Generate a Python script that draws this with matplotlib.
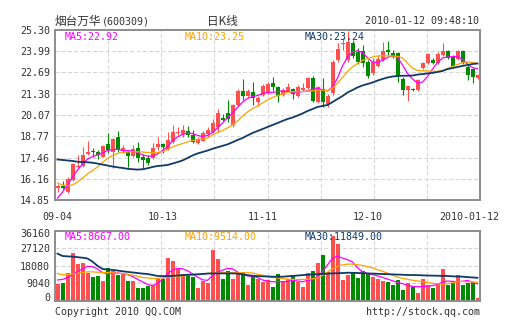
import numpy as np
import matplotlib
matplotlib.use("Agg")
import matplotlib.pyplot as plt
import matplotlib.transforms as mtransforms

# 烟台万华 (600309) daily K-line, 2009-09-04 .. 2010-01-12
opens = [15.59, 15.68, 15.37, 16.08, 16.88, 16.91, 17.65, 17.89, 17.80, 17.52,
         18.32, 17.83, 18.72, 17.86, 17.82, 17.55, 18.03, 17.51, 17.41, 17.41,
         18.13, 18.29, 17.97, 18.43, 18.95, 18.91, 19.09, 18.85, 18.37, 18.50,
         18.91, 19.05, 19.36, 19.91, 20.22, 19.46, 20.69, 21.55, 21.26, 21.47,
         20.89, 21.30, 21.43, 22.07, 21.78, 21.30, 21.51, 21.65, 21.26, 21.61,
         21.72, 22.33, 20.89, 21.67, 20.75, 21.41, 23.46, 24.44, 23.46, 24.50,
         23.95, 24.01, 23.33, 22.66, 23.11, 23.46, 24.07, 23.90, 23.87, 22.29,
         21.61, 21.65, 21.61, 22.95, 23.25, 23.46, 23.25, 23.76, 24.03, 23.66,
         23.50, 24.03, 23.04, 22.88, 22.33]
closes = [15.74, 15.56, 16.14, 17.06, 16.97, 17.62, 17.82, 17.77, 17.62, 18.17,
          17.92, 18.60, 17.92, 18.05, 17.55, 17.97, 17.41, 17.31, 17.14, 18.03,
          18.29, 18.13, 18.54, 19.05, 19.05, 19.15, 18.85, 18.43, 18.60, 18.95,
          19.15, 19.56, 20.22, 19.77, 19.81, 20.69, 21.55, 21.26, 21.55, 21.10,
          21.12, 21.86, 21.98, 21.80, 21.26, 21.61, 21.78, 21.35, 21.81, 21.75,
          22.33, 20.94, 21.78, 20.89, 21.26, 23.35, 24.13, 24.53, 24.56, 23.70,
          23.33, 23.27, 22.49, 23.33, 23.52, 24.03, 23.97, 23.66, 22.49, 21.61,
          21.86, 21.61, 22.23, 23.25, 23.82, 23.25, 23.82, 24.03, 23.56, 23.11,
          24.03, 23.25, 22.53, 22.39, 22.53]
highs = [15.83, 16.02, 16.29, 17.12, 17.59, 18.11, 18.48, 18.05, 17.92, 18.23,
         18.97, 18.66, 19.09, 18.23, 17.92, 18.23, 18.43, 17.68, 17.62, 18.34,
         18.74, 18.35, 19.05, 19.46, 19.32, 19.46, 19.42, 19.15, 18.74, 19.11,
         19.36, 19.81, 20.43, 20.12, 21.00, 20.75, 21.67, 22.29, 21.67, 22.09,
         21.24, 21.98, 22.10, 22.41, 21.86, 21.74, 22.02, 21.74, 21.92, 22.02,
         22.41, 22.47, 21.86, 22.33, 21.37, 23.46, 24.52, 24.81, 25.26, 24.69,
         24.19, 24.38, 23.46, 23.58, 23.76, 24.56, 24.62, 24.07, 23.95, 22.41,
         21.86, 21.74, 22.29, 23.33, 23.89, 23.58, 23.95, 24.52, 24.07, 23.76,
         24.07, 24.07, 23.15, 22.96, 22.60]
lows = [15.37, 15.50, 15.28, 16.02, 16.82, 16.88, 17.62, 17.49, 17.37, 17.49,
        17.74, 16.82, 17.83, 17.74, 16.90, 17.49, 17.20, 16.82, 17.00, 17.37,
        17.92, 17.72, 17.92, 18.34, 18.85, 18.74, 18.72, 18.35, 18.29, 18.48,
        18.74, 18.97, 19.05, 19.71, 19.66, 19.36, 20.63, 21.00, 21.20, 20.69,
        20.65, 21.24, 21.37, 21.55, 20.89, 21.24, 21.46, 21.04, 21.21, 21.55,
        21.67, 20.87, 20.84, 20.59, 20.59, 21.30, 23.33, 24.07, 23.33, 23.58,
        23.21, 23.04, 22.35, 22.53, 23.03, 23.39, 23.76, 23.58, 22.12, 21.30,
        20.95, 21.55, 21.55, 22.90, 23.21, 23.21, 23.21, 23.70, 23.52, 23.03,
        23.46, 23.21, 22.23, 22.02, 22.29]
volumes = [8610, 9300, 14465, 24800, 18940, 19630, 14120, 12050, 12740, 10160,
           16700, 15500, 13260, 13780, 10160, 10160, 6716, 6716, 7577, 8093,
           11880, 11190, 22210, 20660, 16360, 13780, 13260, 12050, 6716, 10160,
           9300, 26170, 21520, 11190, 15500, 11190, 14465, 14980, 8093, 13260,
           11190, 9815, 10680, 7232, 13780, 10160, 11020, 13260, 9815, 7232,
           14465, 15500, 19290, 23590, 14980, 33400, 29270, 10680, 13260, 14980,
           11880, 15330, 13780, 12400, 11020, 10160, 9815, 8093, 10680, 5510,
           8954, 7232, 4133, 11190, 8093, 6716, 8610, 16360, 8093, 9300,
           13260, 8093, 9300, 9815, 1550]

ma5 = [14.97, 15.34, 15.77, 16.26, 16.69, 17.06, 17.37, 17.52, 17.62, 17.74,
       17.89, 17.95, 17.97, 17.89, 17.88, 17.86, 17.77, 17.62, 17.55, 17.55,
       17.68, 17.89, 18.14, 18.48, 18.72, 18.88, 18.95, 18.94, 18.82, 18.75,
       18.82, 19.00, 19.28, 19.58, 19.89, 20.20, 20.54, 20.87, 21.09, 21.21,
       21.27, 21.40, 21.46, 21.46, 21.52, 21.55, 21.52, 21.46, 21.49, 21.51,
       21.55, 21.67, 21.70, 21.64, 21.55, 21.80, 22.35, 23.09, 23.64, 23.95,
       24.03, 23.92, 23.58, 23.33, 23.31, 23.43, 23.61, 23.73, 23.61, 23.15,
       22.63, 22.29, 22.04, 22.10, 22.44, 22.90, 23.30, 23.58, 23.64, 23.66,
       23.67, 23.49, 23.21, 22.99, 22.92]
ma10 = [15.90, 15.77, 15.74, 15.77, 15.96, 16.20, 16.45, 16.66, 16.88, 17.16,
        17.40, 17.59, 17.71, 17.77, 17.80, 17.82, 17.82, 17.80, 17.77, 17.77,
        17.77, 17.83, 17.95, 18.11, 18.23, 18.32, 18.42, 18.51, 18.57, 18.60,
        18.66, 18.85, 19.00, 19.12, 19.28, 19.46, 19.71, 20.01, 20.26, 20.47,
        20.63, 20.81, 21.00, 21.15, 21.27, 21.37, 21.46, 21.51, 21.51, 21.52,
        21.54, 21.56, 21.59, 21.60, 21.58, 21.73, 22.04, 22.38, 22.75, 23.03,
        23.24, 23.43, 23.55, 23.64, 23.70, 23.72, 23.71, 23.70, 23.68, 23.58,
        23.27, 22.96, 22.82, 22.80, 22.79, 22.77, 22.75, 22.81, 22.93, 23.06,
        23.18, 23.30, 23.34, 23.30, 23.25]
ma30 = [17.34, 17.31, 17.28, 17.25, 17.20, 17.18, 17.17, 17.14, 17.09, 17.03,
        16.97, 16.91, 16.86, 16.82, 16.77, 16.74, 16.72, 16.74, 16.80, 16.88,
        16.94, 16.97, 17.00, 17.09, 17.18, 17.28, 17.43, 17.59, 17.71, 17.80,
        17.89, 18.00, 18.09, 18.18, 18.27, 18.40, 18.54, 18.66, 18.82, 18.97,
        19.09, 19.21, 19.34, 19.46, 19.58, 19.71, 19.83, 19.92, 20.04, 20.17,
        20.32, 20.44, 20.57, 20.63, 20.69, 20.87, 21.06, 21.24, 21.46, 21.61,
        21.77, 21.89, 21.98, 22.07, 22.19, 22.29, 22.38, 22.44, 22.47, 22.49,
        22.49, 22.50, 22.56, 22.59, 22.63, 22.66, 22.72, 22.78, 22.90, 22.96,
        23.03, 23.09, 23.15, 23.21, 23.24]

vol_ma5 = [10700, 11000, 12000, 13500, 15000, 16500, 17700, 17600, 16400, 14500,
           14000, 14300, 14300, 14000, 13500, 12500, 11000, 9800, 8400, 7800,
           9000, 11000, 14000, 15800, 16700, 16500, 15500, 13800, 12200, 10800,
           10500, 13000, 14800, 15800, 16700, 16500, 14800, 13500, 12800, 12500,
           12000, 10700, 10100, 9815, 9815, 9815, 9900, 10500, 10200, 9815,
           10400, 10900, 12500, 15000, 18500, 22000, 23000, 22000, 21200, 20000,
           17000, 15000, 14000, 13500, 12800, 12000, 11200, 10300, 9500, 8800,
           8000, 7400, 7232, 7300, 7577, 7800, 8500, 9500, 10160, 10000,
           9815, 10000, 10500, 9500, 8667]
vol_ma10 = [14000, 13400, 13500, 13800, 14200, 14500, 14900, 14900, 14700, 14600,
            14500, 14400, 14200, 14000, 13600, 13200, 12600, 12000, 11700, 11500,
            11500, 11800, 12200, 12400, 12500, 12800, 13200, 13400, 13700, 13900,
            14100, 14200, 14400, 14450, 14450, 14450, 14450, 14450, 14450, 14300,
            13700, 13200, 12500, 12000, 11700, 11500, 11200, 11000, 11000, 11000,
            11100, 11300, 11800, 13000, 14800, 16500, 17800, 18500, 18900, 18900,
            18600, 18200, 17600, 17000, 16000, 15200, 14200, 13200, 12200, 11500,
            11000, 10600, 10200, 9800, 9400, 9000, 8700, 8500, 8800, 9300,
            9800, 10000, 9800, 9700, 9514]
vol_ma30 = [24300, 23100, 22900, 22750, 22500, 22200, 21800, 20200, 18000, 16400,
            16100, 15900, 15600, 15200, 14900, 14600, 14300, 14000, 13800, 13300,
            12800, 12700, 12700, 12800, 13000, 13200, 13400, 13500, 13600, 13800,
            14000, 14100, 14100, 14100, 14100, 14100, 14000, 13600, 13200, 12900,
            12700, 12600, 12500, 12400, 12400, 12400, 12600, 12800, 13000, 13200,
            13400, 13600, 13700, 13800, 14000, 14100, 14200, 14300, 14450, 14400,
            14300, 14200, 14100, 14000, 13900, 13800, 13700, 13600, 13500, 13400,
            13300, 13250, 13200, 13100, 13000, 12950, 12900, 12800, 12750, 12600,
            12500, 12400, 12200, 12000, 11849]

date_labels = ['09-04', '10-13', '11-11', '12-10', '2010-01-12']
date_index = [0, 21, 41, 62, 84]
price_ticks = [14.85, 16.16, 17.46, 18.77, 20.07, 21.38, 22.69, 23.99, 25.30]
volume_ticks = [0, 9040, 18080, 27120, 36160]

RED = '#ff4f4f'
GREEN = '#008a00'
C_MA5 = '#ff00ff'
C_MA10 = '#ffa200'
C_MA30 = '#103a6a'
TEXT = '#333333'
GRID = '#d6d6d6'
FRAME = '#8c8c8c'
MONO = ['DejaVu Sans Mono', 'Noto Sans CJK SC']
CJK = ['Noto Sans CJK SC', 'DejaVu Sans']

plt.rcParams['font.family'] = MONO

W, H = 505, 330
fig = plt.figure(figsize=(W / 100, H / 100), dpi=100)
fig.patch.set_facecolor('white')


def fpos(xp, yp):
    return xp / W, 1 - yp / H


ax = fig.add_axes([55 / W, 130 / H, 425 / W, 170 / H])
axv = fig.add_axes([55 / W, 29.3 / H, 425 / W, 70 / H])

n = len(closes)
x = np.arange(n) + 0.5
o, c, h, l = (np.array(a) for a in (opens, closes, highs, lows))
colors = np.where(c >= o, RED, GREEN)

for a in (ax, axv):
    a.set_xlim(0, n)
    a.set_facecolor('white')
    for s in a.spines.values():
        s.set_color(FRAME)
        s.set_linewidth(1.4)
    a.tick_params(length=0, labelsize=7.2, labelcolor=TEXT)
    for j in range(1, 8):
        a.axvline(n * j / 8, color=GRID, lw=0.75, ls=(0, (4, 2)), zorder=0)

# candles
ax.vlines(x, l, h, colors=colors, linewidth=0.8, zorder=2)
ax.bar(x, np.maximum(np.abs(c - o), 0.03), bottom=np.minimum(o, c),
       width=0.8, color=colors, linewidth=0, zorder=2)
ax.plot(x, ma5, color=C_MA5, lw=0.9, zorder=3)
ax.plot(x, ma10, color=C_MA10, lw=0.9, zorder=3)
ax.plot(x, ma30, color=C_MA30, lw=1.3, zorder=3)

ax.set_ylim(price_ticks[0], price_ticks[-1])
ax.set_yticks(price_ticks)
ax.set_yticklabels([f'{t:.2f}' for t in price_ticks])
for t in price_ticks[1:-1]:
    ax.axhline(t, color=GRID, lw=0.75, ls=(0, (4, 2)), zorder=0)
ax.set_xticks([i + 0.5 for i in date_index])
ax.set_xticklabels(date_labels)
ax.tick_params(axis='y', pad=3.6)
ax.tick_params(axis='x', pad=8.5)
last = ax.get_xticklabels()[-1]
last.set_transform(last.get_transform() +
                   mtransforms.ScaledTranslation(-0.08, 0, fig.dpi_scale_trans))

# volume
axv.bar(x, volumes, width=0.8, color=colors, linewidth=0, zorder=2)
axv.plot(x, vol_ma5, color=C_MA5, lw=0.9, zorder=3)
axv.plot(x, vol_ma10, color=C_MA10, lw=0.9, zorder=3)
axv.plot(x, vol_ma30, color=C_MA30, lw=1.3, zorder=3)
axv.set_ylim(volume_ticks[0], volume_ticks[-1])
axv.set_yticks(volume_ticks)
axv.set_yticklabels([str(t) for t in volume_ticks])
for t in volume_ticks[1:-1]:
    axv.axhline(t, color=GRID, lw=0.75, ls=(0, (4, 2)), zorder=0)
axv.set_xticks([])
axv.tick_params(axis='y', pad=3.6)
vlabels = axv.get_yticklabels()
vlabels[0].set_transform(vlabels[0].get_transform() +
                         mtransforms.ScaledTranslation(0, 0.035, fig.dpi_scale_trans))
vlabels[-1].set_transform(vlabels[-1].get_transform() +
                          mtransforms.ScaledTranslation(0, -0.025, fig.dpi_scale_trans))

# header
fig.text(*fpos(55, 21), '烟台万华', family=CJK, fontsize=8.4, color=TEXT, va='center')
fig.text(*fpos(102, 21), '(600309)', fontsize=7.2, color=TEXT, va='center')
fig.text(*fpos(207, 21), '日K线', family=CJK, fontsize=8.4, color=TEXT, va='center')
fig.text(*fpos(479, 21), '2010-01-12 09:48:10', fontsize=7.2, color=TEXT,
         va='center', ha='right')

# moving-average legends
for xp, name, col, val in ((65, 'MA5', C_MA5, ma5[-1]),
                           (185, 'MA10', C_MA10, ma10[-1]),
                           (305, 'MA30', C_MA30, ma30[-1])):
    fig.text(*fpos(xp, 37), f'{name}:{val:.2f}', fontsize=7.2, color=col, va='center')
for xp, name, col, val in ((65, 'MA5', C_MA5, vol_ma5[-1]),
                           (185, 'MA10', C_MA10, vol_ma10[-1]),
                           (305, 'MA30', C_MA30, vol_ma30[-1])):
    fig.text(*fpos(xp, 237), f'{name}:{val:.2f}', fontsize=7.2, color=col, va='center')

# footer
fig.text(*fpos(55, 312), 'Copyright 2010 QQ.COM', fontsize=7.2, color=TEXT, va='center')
fig.text(*fpos(480, 312), 'http://stock.qq.com', fontsize=7.2, color=TEXT,
         va='center', ha='right')

fig.savefig('out.png', dpi=100, facecolor='white')
